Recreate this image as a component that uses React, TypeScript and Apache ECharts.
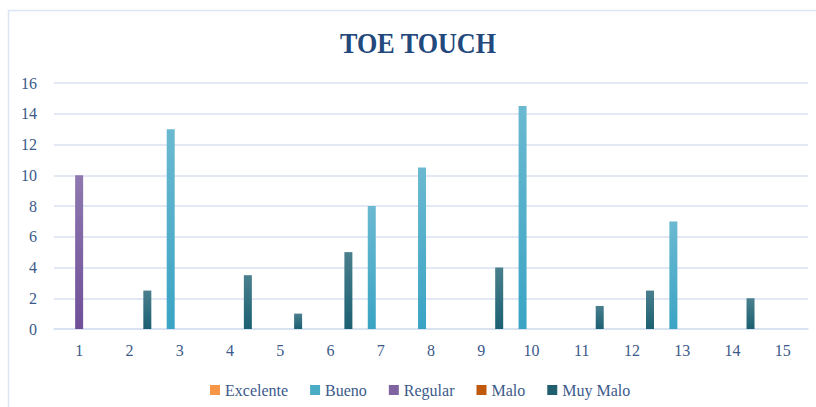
import React, { useEffect, useRef } from "react";
import * as echarts from "echarts";

const categories = ["1", "2", "3", "4", "5", "6", "7", "8", "9", "10", "11", "12", "13", "14", "15"];
const seriesNames = ["Excelente", "Bueno", "Regular", "Malo", "Muy Malo"];
const excelente = [0, 0, 0, 0, 0, 0, 0, 0, 0, 0, 0, 0, 0, 0, 0];
const bueno = [0, 0, 13, 0, 0, 0, 8, 10.5, 0, 14.5, 0, 0, 7, 0, 0];
const regular = [10, 0, 0, 0, 0, 0, 0, 0, 0, 0, 0, 0, 0, 0, 0];
const malo = [0, 0, 0, 0, 0, 0, 0, 0, 0, 0, 0, 0, 0, 0, 0];
const muyMalo = [0, 2.5, 0, 3.5, 1, 5, 0, 0, 4, 0, 1.5, 2.5, 0, 2, 0];
const yTicks = [0, 2, 4, 6, 8, 10, 12, 14, 16];

const FONT = "'Liberation Serif', 'DejaVu Serif', serif";
const TEXT = "#3b5a8a";

function grad(top: string, bottom: string) {
  return new echarts.graphic.LinearGradient(0, 0, 0, 1, [
    { offset: 0, color: top },
    { offset: 1, color: bottom },
  ]);
}

export default function App() {
  const ref = useRef<HTMLDivElement>(null);
  useEffect(() => {
    if (!ref.current) return;
    const chart = echarts.init(ref.current, undefined, { renderer: "svg" });
    const data = [excelente, bueno, regular, malo, muyMalo];
    const colors = [
      [ "#f9a35e", "#f58a2e" ],
      [ "#6bb9d1", "#3aa4c4" ],
      [ "#8e79af", "#704f98" ],
      [ "#c86420", "#b3500a" ],
      [ "#4a7f8d", "#1b6072" ],
    ];
    const legendColors = ["#f79646", "#4bacc6", "#8064a2", "#c0590e", "#215f6e"];
    chart.setOption({
      animation: false,
      backgroundColor: "#ffffff",
      graphic: [
        {
          type: "rect",
          shape: { x: 8.5, y: 10.5, width: 900, height: 500 },
          style: { fill: "none", stroke: "#dbe5f3", lineWidth: 1.5 },
          silent: true,
        },
        {
          type: "text",
          x: 418,
          y: 43,
          scaleX: 0.87,
          originX: 0,
          style: {
            text: "TOE TOUCH",
            font: `bold 30px ${FONT}`,
            fill: "#22487c",
            textAlign: "center",
            textVerticalAlign: "middle",
          },
        },
      ],
      legend: {
        data: seriesNames.map((n, i) => ({ name: n, itemStyle: { color: legendColors[i] } })),
        top: 377,
        left: 205,
        icon: "rect",
        itemWidth: 10,
        itemHeight: 10,
        itemGap: 22,
        textStyle: { fontFamily: FONT, fontSize: 16, color: TEXT },
      },
      grid: { left: 54, right: 8, top: 83, bottom: 78 },
      xAxis: {
        type: "category",
        data: categories,
        axisLine: { lineStyle: { color: "#d6e0ef", width: 1.5 } },
        axisTick: { show: false },
        axisLabel: { fontFamily: FONT, fontSize: 16, color: TEXT, margin: 13 },
      },
      yAxis: {
        type: "value",
        min: 0,
        max: 16,
        interval: 2,
        axisLabel: {
          fontFamily: FONT,
          fontSize: 16,
          color: TEXT,
          margin: 17,
          formatter: (v: number) => (yTicks.includes(v) ? String(v) : ""),
        },
        splitLine: { lineStyle: { color: "#d9e2f1", width: 1.5 } },
        axisLine: { show: false },
        axisTick: { show: false },
      },
      series: seriesNames.map((n, i) => ({
        name: n,
        type: "bar",
        data: data[i],
        barWidth: 8,
        barGap: "12%",
        itemStyle: { color: grad(colors[i][0], colors[i][1]) },
      })),
    });
    return () => chart.dispose();
  }, []);
  return (
    <div
      ref={ref}
      style={{ position: "absolute", left: 0, top: 0, width: 816, height: 407 }}
    />
  );
}
